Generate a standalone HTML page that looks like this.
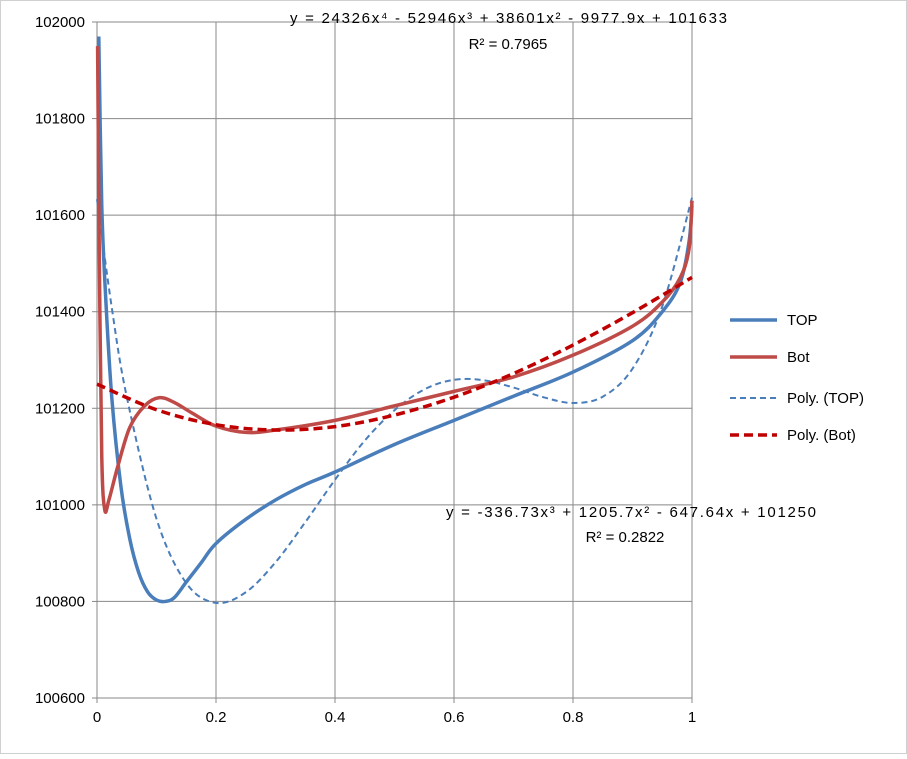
<!DOCTYPE html>
<html><head><meta charset="utf-8"><style>
body{margin:0;background:#fff;}
svg text{font-family:"Liberation Sans",sans-serif;fill:#000;}
</style></head><body>
<svg id="chart" width="907" height="754" xmlns="http://www.w3.org/2000/svg">
<rect x="0.5" y="0.5" width="906" height="753" fill="#fff" stroke="#d0d0d0"/>
<g id="grid"></g>
<g id="axes"></g>
<g id="series"></g>
<text x="290" y="23" textLength="437" lengthAdjust="spacing" font-size="15">y = 24326x⁴ - 52946x³ + 38601x² - 9977.9x + 101633</text>
<text x="508" y="49" text-anchor="middle" font-size="15">R² = 0.7965</text>
<text x="446" y="517" textLength="370" lengthAdjust="spacing" font-size="15">y = -336.73x³ + 1205.7x² - 647.64x + 101250</text>
<text x="625" y="542" text-anchor="middle" font-size="15">R² = 0.2822</text>
<g id="legend"></g>
</svg>
<script>
const xTicks=[0,0.2,0.4,0.6,0.8,1];
const xTickLabels=["0","0.2","0.4","0.6","0.8","1"];
const yTicks=[100600,100800,101000,101200,101400,101600,101800,102000];
const yTickLabels=["100600","100800","101000","101200","101400","101600","101800","102000"];
const topX=[0.003,0.008,0.015,0.025,0.04,0.055,0.07,0.085,0.1,0.115,0.13,0.15,0.175,0.2,0.25,0.3,0.35,0.4,0.5,0.6,0.7,0.8,0.9,0.95,0.98,0.995,1.0];
const topY=[101970,101620,101420,101220,101040,100930,100860,100820,100803,100800,100808,100840,100880,100920,100970,101010,101042,101068,101125,101175,101225,101275,101340,101400,101460,101545,101620];
const botX=[0.001,0.004,0.008,0.013,0.02,0.035,0.055,0.08,0.105,0.13,0.16,0.2,0.25,0.3,0.4,0.5,0.6,0.7,0.8,0.9,0.95,0.98,0.995,1.0];
const botY=[101950,101500,101100,100990,101010,101080,101160,101205,101222,101212,101190,101163,101150,101155,101175,101205,101235,101265,101310,101370,101420,101470,101530,101630];
const polyTopX=[0,0.025,0.05,0.1,0.15,0.2,0.25,0.3,0.35,0.4,0.45,0.5,0.55,0.6,0.65,0.7,0.75,0.8,0.85,0.9,0.95,1];
const polyTopY=[101633,101407,101224,100971,100838,100797,100819,100881,100964,101052,101133,101196,101239,101259,101258,101243,101223,101211,101224,101282,101411,101636];
const polyBotX=[0,0.1,0.2,0.3,0.4,0.5,0.6,0.7,0.8,0.9,1];
const polyBotY=[101250,101197,101166,101155,101162,101186,101223,101272,101331,101398,101471];

const X0=97,X1=692,Y0=698,Y1=22,YMIN=100600,YMAX=102000;
const sx=v=>X0+(X1-X0)*v;
const sy=v=>Y0-(Y0-Y1)*(v-YMIN)/(YMAX-YMIN);
const NS="http://www.w3.org/2000/svg";
function mk(t,a,p){const e=document.createElementNS(NS,t);for(const k in a)e.setAttribute(k,a[k]);p.appendChild(e);return e;}
const grid=document.getElementById('grid'),axes=document.getElementById('axes'),ser=document.getElementById('series'),leg=document.getElementById('legend');
yTicks.forEach((v,i)=>{
 if(i>0){const l=mk('line',{x1:X0,x2:X1,y1:sy(v),y2:sy(v),stroke:'#888','stroke-width':1},grid);
 
 }
 const t=mk('text',{x:85,y:sy(v)+5,'text-anchor':'end','font-size':15},axes);t.textContent=yTickLabels[i];
 
 
 const tk=mk('line',{x1:X0-5,x2:X0,y1:sy(v),y2:sy(v),stroke:'#888'},axes);
 
 
});
xTicks.forEach((v,i)=>{
 if(i>0){const l=mk('line',{x1:sx(v),x2:sx(v),y1:Y1,y2:Y0,stroke:'#888','stroke-width':1},grid);
 
 }
 const t=mk('text',{x:sx(v),y:Y0+24,'text-anchor':'middle','font-size':15},axes);t.textContent=xTickLabels[i];
 
 
 const tk=mk('line',{x1:sx(v),x2:sx(v),y1:Y0,y2:Y0+5,stroke:'#888'},axes);
 
 
});
const ya=mk('line',{x1:X0,x2:X0,y1:Y1,y2:Y0,stroke:'#888'},axes);


const xa=mk('line',{x1:X0,x2:X1,y1:Y0,y2:Y0,stroke:'#888'},axes);


function path(xs,ys){let d='';for(let i=0;i<xs.length;i++){const px=sx(xs[i]),py=sy(ys[i]);
 if(i===0){d='M'+px+','+py;continue;}
 const p0=[sx(xs[Math.max(i-2,0)]),sy(ys[Math.max(i-2,0)])],p1=[sx(xs[i-1]),sy(ys[i-1])],p2=[px,py],p3=[sx(xs[Math.min(i+1,xs.length-1)]),sy(ys[Math.min(i+1,xs.length-1)])];
 const c1=[p1[0]+(p2[0]-p0[0])/6,p1[1]+(p2[1]-p0[1])/6],c2=[p2[0]-(p3[0]-p1[0])/6,p2[1]-(p3[1]-p1[1])/6];
 d+=' C'+c1+' '+c2+' '+p2;}return d;}
const defs=[
 {xs:polyTopX,ys:polyTopY,c:'#4a7ebb',w:2,da:'6,4',n:'poly-top-trendline',l:'Poly. (TOP)'},
 {xs:topX,ys:topY,c:'#4a7ebb',w:3.5,da:'',n:'top-series-line',l:'TOP'},
 {xs:botX,ys:botY,c:'#be4b48',w:3.5,da:'',n:'bot-series-line',l:'Bot'},
 {xs:polyBotX,ys:polyBotY,c:'#c00000',w:3.5,da:'9,5',n:'poly-bot-trendline',l:'Poly. (Bot)'}];
defs.forEach(s=>{const p=mk('path',{d:path(s.xs,s.ys),fill:'none',stroke:s.c,'stroke-width':s.w,'stroke-dasharray':s.da,'stroke-linejoin':'round'},ser);
 
 });
const legOrder=[defs[1],defs[2],defs[0],defs[3]],legY=[320,357,398,435];
legOrder.forEach((s,i)=>{
 const l=mk('line',{x1:730,x2:777,y1:legY[i],y2:legY[i],stroke:s.c,'stroke-width':s.w,'stroke-dasharray':s.da},leg);
 
 
 const t=mk('text',{x:787,y:legY[i]+5,'font-size':15},leg);t.textContent=s.l;
 
 
});
</script>
</body></html>
